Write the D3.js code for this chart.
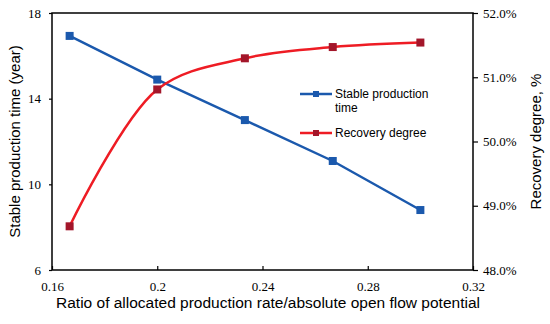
<!DOCTYPE html>
<html>
<head>
<meta charset="utf-8">
<script src="https://cdn.jsdelivr.net/npm/d3@7"></script>
<style>
  body { margin: 0; background: #fff; }
</style>
</head>
<body>
<div id="vis"></div>
<script>
// chart data
var ratios = [0.1667, 0.2, 0.2333, 0.2667, 0.3];
var stableTime = [16.93, 14.89, 13.0, 11.09, 8.8];
var recovery = [48.68, 50.81, 51.295, 51.47, 51.54];
var xTicks = [0.16, 0.2, 0.24, 0.28, 0.32];
var yLeftTicks = [6, 10, 14, 18];
var yRightTicks = [48, 49, 50, 51, 52];

var w = 550, h = 324;
var margin = {left: 52, right: 77, top: 13, bottom: 54};
var blue = "#1b59ad", red = "#ee1c24", darkRed = "#a3162a";
var serif = "'Liberation Serif', 'Times New Roman', serif";

var svg = d3.select("#vis").append("svg")
    .attr("width", w)
    .attr("height", h);

var x = d3.scaleLinear().domain([0.16, 0.32]).range([margin.left, w - margin.right]);
var yL = d3.scaleLinear().domain([6, 18]).range([h - margin.bottom, margin.top]);
var yR = d3.scaleLinear().domain([48, 52]).range([h - margin.bottom, margin.top]);

// frame
svg.append("rect")
    .attr("x", margin.left)
    .attr("y", margin.top)
    .attr("width", w - margin.left - margin.right)
    .attr("height", h - margin.top - margin.bottom)
    .attr("fill", "none")
    .attr("stroke", "#000")
    .attr("stroke-width", 1.5);

//axes
var xAxis = svg.append("g")
    .attr("transform", "translate(0," + (h - margin.bottom) + ")")
    .call(d3.axisBottom(x).tickValues(xTicks).tickFormat(d3.format("")).tickSizeInner(-4).tickSizeOuter(0).tickPadding(12));

var leftAxis = svg.append("g")
    .attr("transform", "translate(" + margin.left + ",0)")
    .call(d3.axisLeft(yL).tickValues(yLeftTicks).tickSizeInner(3).tickSizeOuter(0).tickPadding(8));

var rightAxis = svg.append("g")
    .attr("transform", "translate(" + (w - margin.right) + ",0)")
    .call(d3.axisRight(yR).tickValues(yRightTicks).tickFormat(function(d) { return d.toFixed(1) + "%"; }).tickSizeInner(5).tickSizeOuter(0).tickPadding(5));

[xAxis, leftAxis, rightAxis].forEach(function(a) {
    a.attr("font-family", serif).attr("font-size", 13);
    a.select(".domain").remove();
    a.selectAll("line").attr("stroke", "#000").attr("stroke-width", 1.2);
    a.selectAll("text").attr("fill", "#000");
});

// lines
var lineBlue = d3.line()
    .x(function(d, i) { return x(ratios[i]); })
    .y(function(d) { return yL(d); });

var lineRed = d3.line()
    .x(function(d, i) { return x(ratios[i]); })
    .y(function(d) { return yR(d); })
    .curve(d3.curveCatmullRom.alpha(0.5));

svg.append("path")
    .attr("d", lineBlue(stableTime))
    .attr("fill", "none")
    .attr("stroke", blue)
    .attr("stroke-width", 2.5);

svg.append("path")
    .attr("d", lineRed(recovery))
    .attr("fill", "none")
    .attr("stroke", red)
    .attr("stroke-width", 2.5);

var ms = 8;
svg.append("g").selectAll("rect")
    .data(stableTime)
    .enter()
    .append("rect")
    .attr("x", function(d, i) { return x(ratios[i]) - ms / 2; })
    .attr("y", function(d) { return yL(d) - ms / 2; })
    .attr("width", ms)
    .attr("height", ms)
    .attr("fill", blue);

svg.append("g").selectAll("rect")
    .data(recovery)
    .enter()
    .append("rect")
    .attr("x", function(d, i) { return x(ratios[i]) - ms / 2; })
    .attr("y", function(d) { return yR(d) - ms / 2; })
    .attr("width", ms)
    .attr("height", ms)
    .attr("fill", darkRed);

// axis titles
var sans = "'Liberation Sans', Arial, sans-serif";
svg.append("text")
    .attr("x", 268)
    .attr("y", 308)
    .attr("text-anchor", "middle")
    .style("font-family", sans)
    .style("font-size", "15.5px")
    .text("Ratio of allocated production rate/absolute open flow potential");

svg.append("text")
    .attr("transform", "translate(20," + ((margin.top + h - margin.bottom) / 2) + ")rotate(-90)")
    .attr("text-anchor", "middle")
    .style("font-family", sans)
    .style("font-size", "15px")
    .text("Stable production time (year)");

svg.append("text")
    .attr("transform", "translate(541," + ((margin.top + h - margin.bottom) / 2) + ")rotate(-90)")
    .attr("text-anchor", "middle")
    .style("font-family", sans)
    .style("font-size", "15px")
    .text("Recovery degree, %");

// legend
var legend = [
    {lines: ["Stable production", "time"], line: blue, mark: blue, y: 94},
    {lines: ["Recovery degree"], line: red, mark: darkRed, y: 133}
];
var lg = svg.append("g").selectAll("g")
    .data(legend)
    .enter()
    .append("g")
    .attr("transform", function(d) { return "translate(300," + d.y + ")"; });

lg.append("line")
    .attr("x1", 0).attr("x2", 32)
    .attr("stroke", function(d) { return d.line; })
    .attr("stroke-width", 2.5);

lg.append("rect")
    .attr("x", 13).attr("y", -3)
    .attr("width", 6).attr("height", 6)
    .attr("fill", function(d) { return d.mark; });

lg.append("text")
    .attr("x", 35)
    .attr("y", 4)
    .style("font-family", sans)
    .style("font-size", "12px")
    .selectAll("tspan")
    .data(function(d) { return d.lines; })
    .enter()
    .append("tspan")
    .attr("x", 35)
    .attr("dy", function(d, i) { return i ? 14 : 0; })
    .text(function(d) { return d; });
</script>
</body>
</html>
